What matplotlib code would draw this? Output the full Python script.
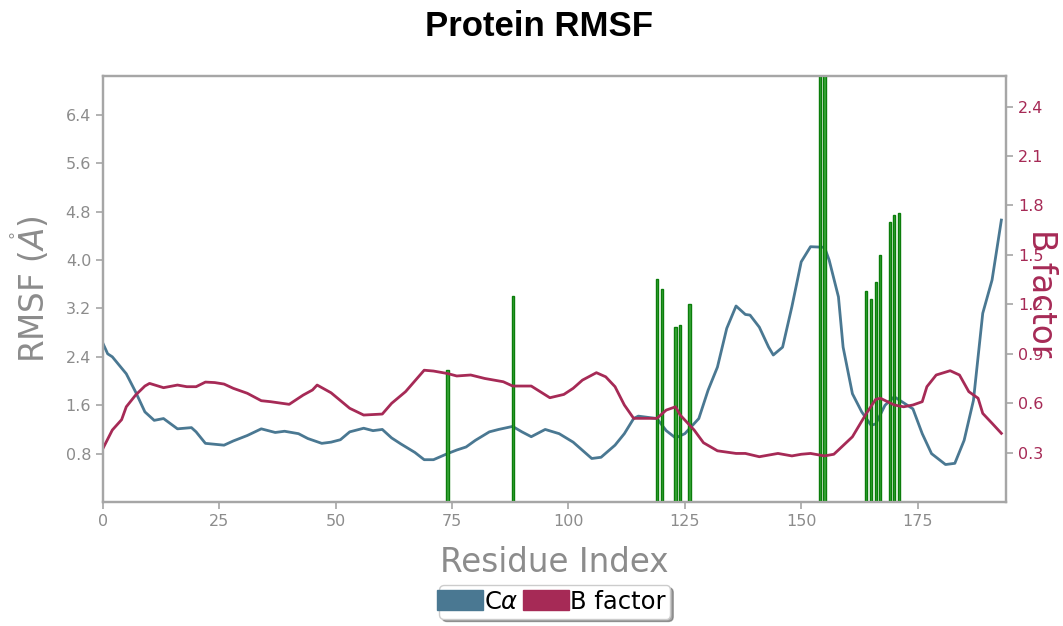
import matplotlib
matplotlib.use("Agg")
import matplotlib.pyplot as plt
from matplotlib.patches import Patch, Rectangle
from matplotlib.legend_handler import HandlerPatch

# C-alpha RMSF (left axis)
ca_res = [0, 1, 2, 5, 7, 9, 11, 13, 16, 19,
          20, 22, 26, 28, 31, 34, 37, 39, 42, 44,
          47, 49, 51, 53, 56, 58, 60, 62, 64, 67,
          69, 71, 74, 76, 78, 80, 83, 85, 88, 90,
          92, 95, 98, 101, 105, 107, 110, 112, 114, 115,
          119, 121, 123, 125, 128, 130, 132, 134, 136, 138,
          139, 141, 143, 144, 146, 148, 150, 152, 155, 156,
          158, 159, 161, 163, 165, 166, 168, 170, 174, 176,
          178, 181, 183, 185, 187, 189, 191, 193]
ca_rmsf = [2.62, 2.45, 2.40, 2.12, 1.82, 1.49, 1.35, 1.38, 1.21, 1.23,
           1.16, 0.97, 0.94, 1.01, 1.10, 1.21, 1.15, 1.17, 1.13, 1.05,
           0.97, 0.99, 1.03, 1.16, 1.22, 1.18, 1.20, 1.06, 0.96, 0.82,
           0.70, 0.70, 0.80, 0.86, 0.91, 1.02, 1.16, 1.20, 1.25, 1.16,
           1.08, 1.20, 1.13, 0.99, 0.72, 0.74, 0.94, 1.13, 1.38, 1.42,
           1.38, 1.18, 1.06, 1.13, 1.38, 1.85, 2.23, 2.87, 3.24, 3.10,
           3.09, 2.89, 2.56, 2.43, 2.56, 3.23, 3.97, 4.22, 4.21, 4.00,
           3.39, 2.56, 1.79, 1.49, 1.27, 1.29, 1.60, 1.74, 1.54, 1.13,
           0.80, 0.62, 0.64, 1.02, 1.68, 3.12, 3.67, 4.66]

# B factor (right axis)
bf_res = [0, 2, 4, 5, 7, 9, 10, 13, 16, 18,
          20, 22, 24, 26, 28, 31, 34, 36, 40, 43,
          45, 46, 49, 53, 56, 60, 62, 65, 69, 71,
          74, 76, 79, 82, 86, 88, 92, 96, 99, 101,
          103, 106, 108, 110, 112, 114, 119, 121, 123, 124,
          127, 129, 132, 136, 138, 141, 143, 145, 148, 150,
          152, 155, 157, 158, 161, 164, 166, 167, 170, 172,
          174, 176, 177, 179, 182, 184, 186, 188, 189, 191,
          193]
bfactor = [0.326, 0.437, 0.50, 0.578, 0.649, 0.704, 0.72, 0.694, 0.71, 0.70,
           0.70, 0.728, 0.725, 0.716, 0.69, 0.66, 0.615, 0.609, 0.593, 0.649,
           0.68, 0.71, 0.663, 0.569, 0.528, 0.534, 0.599, 0.67, 0.80, 0.795,
           0.78, 0.765, 0.771, 0.75, 0.73, 0.704, 0.704, 0.633, 0.653, 0.69,
           0.74, 0.785, 0.76, 0.70, 0.589, 0.508, 0.508, 0.558, 0.578, 0.528,
           0.437, 0.36, 0.311, 0.295, 0.295, 0.275, 0.285, 0.295, 0.28, 0.29,
           0.295, 0.28, 0.29, 0.316, 0.396, 0.538, 0.623, 0.63, 0.589, 0.578,
           0.589, 0.609, 0.70, 0.771, 0.797, 0.771, 0.67, 0.63, 0.538, 0.478,
           0.417]

# green contact bars (left axis units)
bar_res = [74, 88, 119, 120, 123, 124, 126, 154, 155, 164, 165, 166, 167, 169, 170, 171]
bar_h = [2.19, 3.40, 3.68, 3.52, 2.89, 2.93, 3.27, 7.5, 7.5, 3.48, 3.36, 3.64, 4.09, 4.63, 4.74, 4.77]

left_ticks = [0.8, 1.6, 2.4, 3.2, 4.0, 4.8, 5.6, 6.4]
right_ticks = [0.3, 0.6, 0.9, 1.2, 1.5, 1.8, 2.1, 2.4]
x_ticks = [0, 25, 50, 75, 100, 125, 150, 175]

blue = "#4a7892"
red = "#a62a56"
grey = "#8c8c8c"
spine = "#a6a6a6"

fig = plt.figure(figsize=(10.63, 6.26), dpi=100)
ax = fig.add_axes([0.0969, 0.198, 0.8495, 0.6805])
ax2 = ax.twinx()

ax.bar(bar_res, bar_h, width=0.45, color="#3aa83a", edgecolor="#0b7d0b", linewidth=1.0, zorder=3)
ax.plot(ca_res, ca_rmsf, color=blue, lw=2.0, zorder=2)
ax2.plot(bf_res, bfactor, color=red, lw=2.0)

ax.set_xlim(0, 194)
ax.set_ylim(0, 7.04)
ax2.set_ylim(0, 2.585)
ax.set_xticks(x_ticks)
ax.set_yticks(left_ticks)
ax2.set_yticks(right_ticks)

for a in (ax, ax2):
    for s in a.spines.values():
        s.set_color(spine)
        s.set_linewidth(1.6)
ax.tick_params(axis="both", colors=spine, labelcolor=grey, labelsize=11.5, length=5, width=1.2)
ax2.tick_params(axis="y", colors=spine, labelcolor=red, labelsize=11.5, length=5, width=1.2)

ax.set_xlabel("Residue Index", fontsize=23.5, color=grey, labelpad=12)
ax.set_ylabel(r"RMSF ($\mathring{A}$)", fontsize=23.5, color=grey, labelpad=10)
# the reference draws this label right over the tick labels
ax2.set_ylabel("B factor", fontsize=23.5, color=red, rotation=270, va="center")
ax2.yaxis.set_label_coords(1.039, 0.49)

fig.text(0.507, 0.957, "Protein RMSF", fontsize=25, fontweight="bold",
         family="Liberation Sans", ha="center", va="center")


def wide_patch(legend, orig_handle, xdescent, ydescent, width, height, fontsize):
    # handle box pokes slightly past its slot, like the reference
    return Rectangle((-xdescent - 5, -ydescent - 1), width + 5, height + 2)


handles = [Patch(facecolor=blue, edgecolor=blue, label=r"C$\alpha$"),
           Patch(facecolor=red, edgecolor=red, label="B factor")]
fig.legend(handles=handles, loc="lower center", bbox_to_anchor=(0.522, 0.0), ncol=2,
           fontsize=17.5, shadow=True, fancybox=True, handlelength=1.6, handleheight=0.7,
           handletextpad=0.05, columnspacing=0.45, borderpad=0.2, borderaxespad=0.3,
           edgecolor="#cccccc",
           handler_map={Patch: HandlerPatch(patch_func=wide_patch)})

fig.savefig("out.png", dpi=100)
